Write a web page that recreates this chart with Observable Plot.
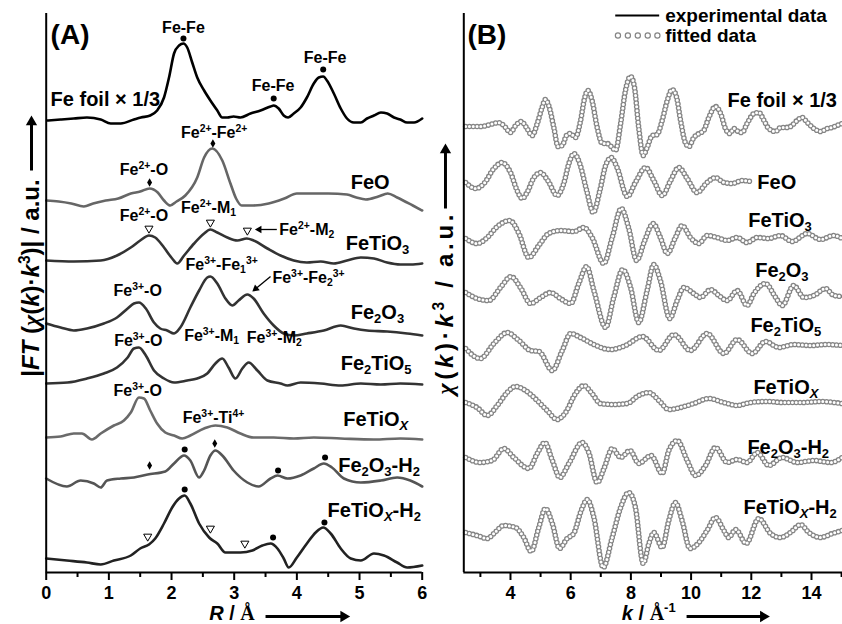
<!DOCTYPE html>
<html><head><meta charset="utf-8">
<script src="https://cdn.jsdelivr.net/npm/d3@7"></script>
<script src="https://cdn.jsdelivr.net/npm/@observablehq/plot@0.6"></script>
<style>
body{margin:0;background:#fff;}
#fig{display:flex;width:842px;height:624px;overflow:hidden;background:#fff;}
#fig svg{display:block;}
</style></head><body><div id="fig"></div>
<script>
// ---------- Panel A : |FT| vs R (stacked, a.u.) ----------
const aFeFoil = [[0.02,452],[0.23,453],[0.44,454],[0.65,455],[0.87,453],[1.03,449],[1.19,449],[1.40,453],[1.51,455],[1.66,457],[1.77,462],[1.88,475],[1.96,495],[2.04,519],[2.12,527],[2.19,529],[2.25,525],[2.33,510],[2.41,495],[2.52,482],[2.62,472],[2.73,462],[2.81,455],[2.89,455],[2.99,456],[3.10,455],[3.26,459],[3.42,462],[3.58,466],[3.63,467],[3.71,464],[3.79,457],[3.86,455],[3.95,459],[4.06,465],[4.16,475],[4.27,489],[4.35,495],[4.42,496],[4.48,492],[4.59,479],[4.70,464],[4.80,454],[4.91,450],[5.02,450],[5.12,454],[5.23,457],[5.34,460],[5.44,459],[5.55,455],[5.65,453],[5.76,450],[5.87,450],[6.0,454]];
const aFeO = [[0,372],[0.2,371],[0.4,369],[0.6,366],[0.75,369],[0.95,372],[1.15,374],[1.35,379],[1.5,381],[1.65,384],[1.78,380],[1.88,372],[1.98,367],[2.08,371],[2.22,377],[2.41,395],[2.52,415],[2.65,424],[2.81,412],[2.94,389],[3.03,374],[3.12,367],[3.3,367],[3.55,369],[3.8,374],[4.0,379],[4.25,379],[4.5,379],[4.8,378],[4.95,375],[5.1,373],[5.3,376],[5.45,379],[5.6,375],[5.85,367],[6.0,362]];
const aFeTiO3 = [[0,312],[0.44,311],[0.87,312],[1.13,317],[1.35,325],[1.5,332],[1.64,337],[1.74,335],[1.88,325],[2.01,314],[2.09,309],[2.2,317],[2.36,329],[2.52,339],[2.62,343],[2.73,340],[2.89,335],[3.05,332],[3.2,334],[3.31,332],[3.53,324],[3.74,317],[3.95,312],[4.16,310],[4.38,311],[4.59,309],[4.8,312],[5.02,315],[5.23,314],[5.44,310],[5.65,308],[5.82,308],[6.0,309]];
const aFe2O3 = [[0,249],[0.23,245],[0.44,242],[0.65,244],[0.92,249],[1.13,255],[1.3,264],[1.4,269],[1.48,270],[1.59,264],[1.72,250],[1.82,244],[1.93,242],[2.04,239],[2.14,245],[2.3,265],[2.44,282],[2.57,295],[2.62,296],[2.73,289],[2.86,274],[2.97,267],[3.07,272],[3.21,278],[3.31,274],[3.47,259],[3.63,247],[3.79,239],[3.95,237],[4.16,239],[4.43,242],[4.7,247],[4.91,244],[5.12,242],[5.44,241],[5.76,239],[6.0,237]];
const aFe2TiO5 = [[0,189],[0.34,190],[0.65,194],[0.92,199],[1.13,205],[1.3,215],[1.4,224],[1.48,225],[1.59,217],[1.72,202],[1.88,194],[2.04,190],[2.25,192],[2.41,194],[2.57,199],[2.7,209],[2.81,214],[2.91,205],[3.02,194],[3.13,204],[3.23,210],[3.37,202],[3.53,192],[3.74,189],[3.85,187],[4.06,190],[4.38,189],[4.7,187],[5.02,189],[5.34,188],[5.65,189],[6.0,188]];
const aFeTiOx = [[0,135],[0.23,136],[0.44,139],[0.57,139],[0.73,133],[0.87,139],[1.08,147],[1.24,152],[1.35,160],[1.48,175],[1.56,174],[1.66,162],[1.77,149],[1.9,140],[2.04,137],[2.17,134],[2.3,137],[2.52,144],[2.7,147],[2.89,145],[3.1,139],[3.31,135],[3.63,135],[3.95,134],[4.27,135],[4.7,134],[5.23,133],[5.65,134],[6.0,133]];
const aFe2O3H2 = [[0,94],[0.33,86],[0.55,92],[0.76,89],[0.87,85],[0.97,92],[1.19,94],[1.4,95],[1.62,98],[1.9,101],[2.04,109],[2.2,117],[2.3,112],[2.44,95],[2.52,102],[2.62,117],[2.7,122],[2.81,117],[2.99,102],[3.21,90],[3.39,86],[3.58,94],[3.69,97],[3.85,94],[4.06,97],[4.27,104],[4.43,109],[4.56,105],[4.75,94],[5.02,90],[5.34,92],[5.6,95],[5.81,92],[6.0,86]];
const aFeTiOxH2 = [[0,14],[0.33,12],[0.65,10],[0.87,8],[1.08,12],[1.35,17],[1.5,24],[1.64,28],[1.74,34],[1.88,49],[2.01,65],[2.12,74],[2.21,77],[2.3,69],[2.44,49],[2.6,35],[2.73,29],[2.86,20],[3.1,20],[3.29,22],[3.45,27],[3.58,29],[3.69,24],[3.79,14],[3.87,5],[4.0,15],[4.16,29],[4.3,40],[4.42,45],[4.54,39],[4.7,24],[4.86,14],[5.02,12],[5.23,19],[5.39,17],[5.6,10],[5.76,5],[6.0,7]];

// ---------- Panel B : chi(k)*k^3 vs k (stacked, a.u.) ----------
const bFeFoil = [[2.51,446],[3.00,446],[3.45,449],[3.58,450],[3.78,447],[4.0,440],[4.17,447],[4.36,451],[4.53,445],[4.72,437],[4.89,449],[5.05,465],[5.16,473],[5.27,467],[5.44,445],[5.58,426],[5.72,427],[5.86,437],[5.99,439],[6.16,435],[6.33,452],[6.46,474],[6.57,482],[6.71,472],[6.88,445],[7.05,429],[7.21,429],[7.38,425],[7.49,422],[7.66,449],[7.82,482],[7.99,496],[8.12,485],[8.26,445],[8.41,417],[8.54,425],[8.71,437],[8.87,438],[9.04,452],[9.21,472],[9.37,483],[9.52,475],[9.65,452],[9.82,429],[9.93,426],[10.09,435],[10.26,439],[10.42,442],[10.59,455],[10.81,466],[10.98,459],[11.14,444],[11.29,439],[11.42,444],[11.56,441],[11.70,440],[11.86,449],[12.09,459],[12.25,460],[12.42,452],[12.58,444],[12.81,441],[12.97,445],[13.14,445],[13.30,446],[13.52,452],[13.69,455],[13.86,450],[14.08,444],[14.30,441],[14.52,444],[14.69,445],[14.85,447],[15.02,449]];
const bFeO = [[2.51,390],[2.84,384],[3.12,389],[3.45,404],[3.72,410],[4.0,400],[4.22,382],[4.39,374],[4.55,380],[4.78,395],[5.0,400],[5.24,392],[5.55,377],[5.77,389],[5.94,409],[6.11,419],[6.30,409],[6.53,382],[6.75,360],[6.97,382],[7.16,407],[7.35,415],[7.54,405],[7.88,376],[8.15,390],[8.49,405],[8.76,392],[9.04,377],[9.32,392],[9.59,405],[9.87,394],[10.2,380],[10.53,390],[10.81,395],[11.09,390],[11.37,389],[11.70,392],[11.97,391]];
const bFeTiO3 = [[2.51,334],[2.89,329],[3.23,335],[3.56,346],[3.98,352],[4.28,339],[4.61,315],[4.94,327],[5.27,339],[5.66,342],[6.11,341],[6.44,345],[6.71,335],[7.10,309],[7.38,335],[7.68,364],[7.93,344],[8.19,312],[8.46,332],[8.74,349],[8.98,335],[9.21,319],[9.48,335],[9.70,347],[9.98,335],[10.26,329],[10.53,337],[10.87,335],[11.2,332],[11.53,335],[11.86,330],[12.2,335],[12.58,334],[12.97,337],[13.36,331],[13.86,339],[14.3,333],[14.74,337],[15.02,334]];
const bFe2O3 = [[2.51,280],[2.89,274],[3.28,272],[3.67,285],[4.02,296],[4.33,285],[4.67,269],[5.0,275],[5.33,280],[5.66,274],[6.0,269],[6.27,289],[6.53,306],[6.77,282],[7.16,245],[7.43,275],[7.73,303],[7.99,285],[8.26,250],[8.54,282],[8.76,308],[8.98,292],[9.29,254],[9.54,272],[9.76,285],[10.09,279],[10.31,275],[10.65,283],[10.92,277],[11.2,272],[11.53,282],[11.86,267],[12.09,279],[12.47,289],[12.81,275],[13.03,267],[13.41,287],[13.75,275],[14.08,277],[14.47,284],[14.74,277],[15.02,276]];
const bFe2TiO5 = [[2.51,224],[3.0,214],[3.45,229],[3.89,240],[4.28,232],[4.67,222],[4.95,221],[5.39,202],[5.72,222],[6.0,239],[6.33,235],[6.77,228],[7.32,223],[7.82,227],[8.38,236],[8.93,222],[9.43,238],[9.98,222],[10.53,239],[11.09,219],[11.53,233],[12.03,219],[12.47,231],[12.92,225],[13.41,228],[13.97,227],[14.52,228],[15.02,227]];
const bFeTiOx = [[2.51,170],[2.89,165],[3.23,157],[3.56,167],[3.89,180],[4.17,186],[4.5,182],[4.89,172],[5.22,162],[5.55,153],[5.83,160],[6.16,179],[6.44,187],[6.71,179],[6.99,169],[7.43,168],[7.88,169],[8.26,177],[8.6,180],[8.93,172],[9.26,163],[9.65,165],[10.09,169],[10.59,174],[11.09,170],[11.53,167],[11.97,170],[12.53,171],[13.08,170],[13.64,170],[14.3,171],[15.02,169]];
const bFe2O3H2 = [[2.51,115],[3.0,110],[3.39,112],[3.78,124],[4.11,115],[4.61,104],[4.89,119],[5.14,130],[5.39,112],[5.64,95],[5.94,109],[6.38,130],[6.6,120],[6.88,90],[7.12,105],[7.38,124],[7.66,115],[7.97,122],[8.26,109],[8.67,117],[9.04,99],[9.26,122],[9.54,132],[9.87,112],[10.15,97],[10.48,107],[10.81,125],[11.2,110],[11.53,113],[11.86,110],[12.2,120],[12.58,107],[13.03,115],[13.52,110],[14.08,112],[14.63,110],[15.02,115]];
const bFeTiOxH2 = [[2.51,40],[2.89,37],[3.23,34],[3.45,39],[3.78,47],[4.17,45],[4.44,35],[4.69,21],[4.94,45],[5.16,64],[5.39,49],[5.63,24],[5.88,34],[6.1,39],[6.35,62],[6.55,73],[6.77,55],[7.08,5],[7.38,35],[7.66,65],[7.93,80],[8.15,65],[8.41,9],[8.6,29],[8.76,40],[9.04,25],[9.26,52],[9.48,70],[9.7,52],[9.96,24],[10.26,30],[10.53,42],[10.81,55],[11.09,42],[11.25,35],[11.48,43],[11.83,29],[12.25,54],[12.64,39],[12.97,35],[13.3,40],[13.64,48],[13.91,40],[14.3,35],[14.69,39],[15.02,42]];

// tick values
const rMajor = [0,1,2,3,4,5,6];
const rMinor = [0.5,1.5,2.5,3.5,4.5,5.5];
const kMajor = [4,6,8,10,12,14];
const kMinor = [3,5,7,9,11,13,15];

// peak markers in panel A  [R, a.u.]
const dotsA = [[2.19,534],[3.63,474],[4.42,503],[2.21,123],[3.7,102],[4.45,115],[2.21,83],[3.62,35],[4.44,50]];
const diamondsA = [[1.65,390],[2.66,429],[1.65,107],[2.69,129]];
const trianglesA = [[1.64,344],[2.62,350],[3.21,342],[1.62,36],[2.62,44],[3.17,29]];

// annotation labels [x, a.u., text, size, anchor]
const labelsA = [
 [0.07,537,"(A)",28,"start"],
 [0.07,473,"Fe foil × 1/3",20,"start"],
 [2.19,545,"Fe-Fe",16,"middle"],
 [3.62,487,"Fe-Fe",16,"middle"],
 [4.45,515,"Fe-Fe",16,"middle"],
 [2.68,440,"Fe^{2+}-Fe^{2+}",16,"middle"],
 [1.56,403,"Fe^{2+}-O",16,"middle"],
 [4.86,390,"FeO",20,"start"],
 [1.56,357,"Fe^{2+}-O",16,"middle"],
 [2.59,365,"Fe^{2+}-M_{1}",16,"middle"],
 [3.72,343,"Fe^{2+}-M_{2}",16,"start"],
 [4.78,329,"FeTiO_{3}",20,"start"],
 [1.46,282,"Fe^{3+}-O",16,"middle"],
 [2.8,308,"Fe^{3+}-Fe_{1}^{3+}",16,"middle"],
 [3.61,295,"Fe^{3+}-Fe_{2}^{3+}",16,"start"],
 [4.86,260,"Fe_{2}O_{3}",20,"start"],
 [1.47,232,"Fe^{3+}-O",16,"middle"],
 [2.64,237,"Fe^{3+}-M_{1}",16,"middle"],
 [3.64,235,"Fe^{3+}-M_{2}",16,"middle"],
 [4.70,209,"Fe_{2}TiO_{5}",20,"start"],
 [1.46,182,"Fe^{3+}-O",16,"middle"],
 [2.67,155,"Fe^{3+}-Ti^{4+}",16,"middle"],
 [4.74,153,"FeTiO_{*X*}",20,"start"],
 [4.66,107,"Fe_{2}O_{3}-H_{2}",20,"start"],
 [4.49,62,"FeTiO_{*X*}-H_{2}",20,"start"],
 [2.6,-41,"*R* / #Å#",20,"start"]
];
const labelsB = [
 [2.57,537,"(B)",28,"start"],
 [9.14,557,"experimental data",19,"start"],
 [9.14,537,"fitted data",19,"start"],
 [11.21,472,"Fe foil × 1/3",20,"start"],
 [12.2,390,"FeO",20,"start"],
 [11.9,352,"FeTiO_{3}",20,"start"],
 [12.13,302,"Fe_{2}O_{3}",20,"start"],
 [11.97,247,"Fe_{2}TiO_{5}",20,"start"],
 [12.07,185,"FeTiO_{*X*}",20,"start"],
 [11.87,125,"Fe_{2}O_{3}-H_{2}",20,"start"],
 [11.74,65,"FeTiO_{*X*}-H_{2}",20,"start"],
 [7.7,-41,"*k* / #Å#^{-1}",20,"start"]
];
const yTitleA = "|*FT* (#*χ*#(*k*)·*k*^{3})| / a.u.";
const yTitleB = "#*χ*#(*k*)·*k*^{3} / a.u.";

// arrows: shaft [x1,y1,x2,y2], head centroid [hx,hy], rotation, width, head r
const arrowsA = [
 {x1:3.68,y1:343,x2:3.37,y2:343,hx:3.40,hy:343,rot:-90,w:1.3,r:2.8},
 {x1:3.58,y1:296,x2:3.343,y2:283.7,hx:3.343,hy:283.7,rot:230.5,w:1.3,r:2.8},
 {x1:3.5,y1:-44,x2:4.74,y2:-44,hx:4.746,hy:-44,rot:90,w:3,r:4.2},
 {x1:-0.235,y1:402,x2:-0.235,y2:450,hx:-0.235,hy:450.5,rot:0,w:3,r:4.2}
];
const arrowsB = [
 {x1:9.85,y1:-44,x2:12.4,y2:-44,hx:12.40,hy:-44,rot:90,w:3,r:4.2},
 {x1:1.84,y1:364,x2:1.84,y2:422,hx:1.84,hy:422.5,rot:0,w:3,r:4.2}
];
const legendLine = [{x1:7.48,x2:8.94,y:557}];
const legendDots = [[7.57,537],[7.90,537],[8.23,537],[8.56,537],[8.88,537]];

const seriesA = [
 {data:aFeFoil,color:"#000"},{data:aFeO,color:"#666"},{data:aFeTiO3,color:"#333"},
 {data:aFe2O3,color:"#333"},{data:aFe2TiO5,color:"#333"},{data:aFeTiOx,color:"#6a6a6a"},
 {data:aFe2O3H2,color:"#555"},{data:aFeTiOxH2,color:"#222"}
];
const seriesB = [bFeFoil,bFeO,bFeTiO3,bFe2O3,bFe2TiO5,bFeTiOx,bFe2O3H2,bFeTiOxH2];

const FONT = "'Liberation Sans', Arial, Helvetica, sans-serif";
const SERIF = "'Liberation Serif', 'Times New Roman', serif";
const X = d => d[0], Y = d => d[1];

function textMarks(labels){
  return labels.map(l => Plot.text([l], {x: d=>d[0], y: d=>d[1], text: d=>d[2], fontSize: l[3], textAnchor: l[4], fontWeight: "bold", fill: "#000"}));
}
function arrowMarks(arr){
  return [
    ...arr.map(a => Plot.link([a], {x1:"x1",y1:"y1",x2:"x2",y2:"y2",stroke:"#000",strokeWidth:a.w})),
    ...arr.map(a => Plot.dot([a], {x:"hx",y:"hy",symbol:"triangle",r:a.r,rotate:a.rot,fill:"#000",stroke:"none"}))
  ];
}
function axisMarks(major, minor){
  return [
    Plot.ruleY([0], {strokeWidth: 2}),
    Plot.axisX(major, {tickSize: 8, tickPadding: 6, strokeWidth: 2, fontWeight: "bold", fontSize: 18, label: null, tickFormat: d => String(d)}),
    Plot.axisX(minor, {tickSize: 5, strokeWidth: 2, label: null, tickFormat: () => ""})
  ];
}
const commonStyle = {fontFamily: FONT, fontSize: "16px", color: "#000", background: "transparent", overflow: "visible"};

const left = Plot.plot({
  width: 430, height: 624, marginLeft: 45.7, marginRight: 8.3, marginTop: 13, marginBottom: 52,
  x: {domain: [0, 6]}, y: {domain: [0, 559], axis: null},
  style: commonStyle,
  marks: [
    ...seriesA.map(s => Plot.line(s.data, {x: X, y: Y, curve: "monotone-x", stroke: s.color, strokeWidth: 2.6, strokeLinejoin: "round"})),
    Plot.ruleX([0], {strokeWidth: 2}),
    ...axisMarks(rMajor, rMinor),
    Plot.dot(dotsA, {x: X, y: Y, r: 3, fill: "#000"}),
    Plot.dot(diamondsA, {x: X, y: Y, symbol: "diamond", r: 2.6, fill: "#000"}),
    Plot.dot(trianglesA, {x: X, y: Y, symbol: "triangle", r: 3, rotate: 180, fill: "#fff", stroke: "#000", strokeWidth: 1}),
    ...textMarks(labelsA),
    Plot.text([yTitleA], {x: -0.235, y: 294.5, text: d => d, rotate: -90, fontSize: 24, fontWeight: "bold"}),
    ...arrowMarks(arrowsA)
  ]
});

const right = Plot.plot({
  width: 412, height: 624, marginLeft: 33.3, marginRight: 0, marginTop: 13, marginBottom: 52,
  x: {domain: [2.449, 15.03]}, y: {domain: [0, 559], axis: null},
  style: commonStyle,
  marks: [
    ...seriesB.flatMap(s => [
      Plot.line(s, {x: X, y: Y, curve: "monotone-x", stroke: "#111", strokeWidth: 2}),
      Plot.line(s, {x: X, y: Y, curve: "monotone-x", stroke: "#858585", strokeWidth: 5.6, strokeDasharray: "0 3.8", strokeLinecap: "round"}),
      Plot.line(s, {x: X, y: Y, curve: "monotone-x", stroke: "#fff", strokeWidth: 3, strokeDasharray: "0 3.8", strokeLinecap: "round"})
    ]),
    Plot.ruleX([2.449], {strokeWidth: 2}),
    ...axisMarks(kMajor, kMinor),
    Plot.link(legendLine, {x1: "x1", x2: "x2", y1: "y", y2: "y", stroke: "#000", strokeWidth: 2}),
    Plot.dot(legendDots, {x: X, y: Y, r: 2.6, fill: "#fff", stroke: "#858585", strokeWidth: 1.2}),
    ...textMarks(labelsB),
    Plot.text([yTitleB], {x: 1.84, y: 268, text: d => d, rotate: -90, fontSize: 24, fontWeight: "bold"}),
    ...arrowMarks(arrowsB)
  ]
});

const fig = document.getElementById("fig");
fig.appendChild(left);
fig.appendChild(right);

function richify(svg, lengths){
  for (const t of svg.querySelectorAll("text")) {
    const s = t.textContent;
    if (!/[\^_*#]/.test(s)) continue;
    const fs = parseFloat(getComputedStyle(t).fontSize) || 16;
    const segs = []; let mode = 0, it = false, serif = false, buf = "";
    const push = () => { if (buf) segs.push({text: buf, mode, it, serif}); buf = ""; };
    for (let i = 0; i < s.length; i++) {
      const c = s[i];
      if ((c === "^" || c === "_") && s[i+1] === "{") { push(); mode = c === "^" ? 1 : 2; i++; continue; }
      if (c === "}" && mode) { push(); mode = 0; continue; }
      if (c === "*") { push(); it = !it; continue; }
      if (c === "#") { push(); serif = !serif; continue; }
      buf += c;
    }
    push();
    t.textContent = "";
    let cur = 0;
    for (const g of segs) {
      const ts = document.createElementNS("http://www.w3.org/2000/svg", "tspan");
      const target = g.mode === 1 ? -0.38 * fs : g.mode === 2 ? 0.22 * fs : 0;
      if (target !== cur) { ts.setAttribute("dy", (target - cur).toFixed(2)); cur = target; }
      if (g.mode) ts.setAttribute("font-size", (0.65 * fs).toFixed(1));
      if (g.it) ts.setAttribute("font-style", "italic");
      if (g.serif) ts.setAttribute("font-family", SERIF);
      ts.textContent = g.text;
      t.appendChild(ts);
    }
    if (lengths && lengths[s]) { t.setAttribute("textLength", lengths[s]); t.setAttribute("lengthAdjust", "spacing"); }
  }
}
richify(left, {});
richify(right, {[yTitleB]: 180});
</script></body></html>
